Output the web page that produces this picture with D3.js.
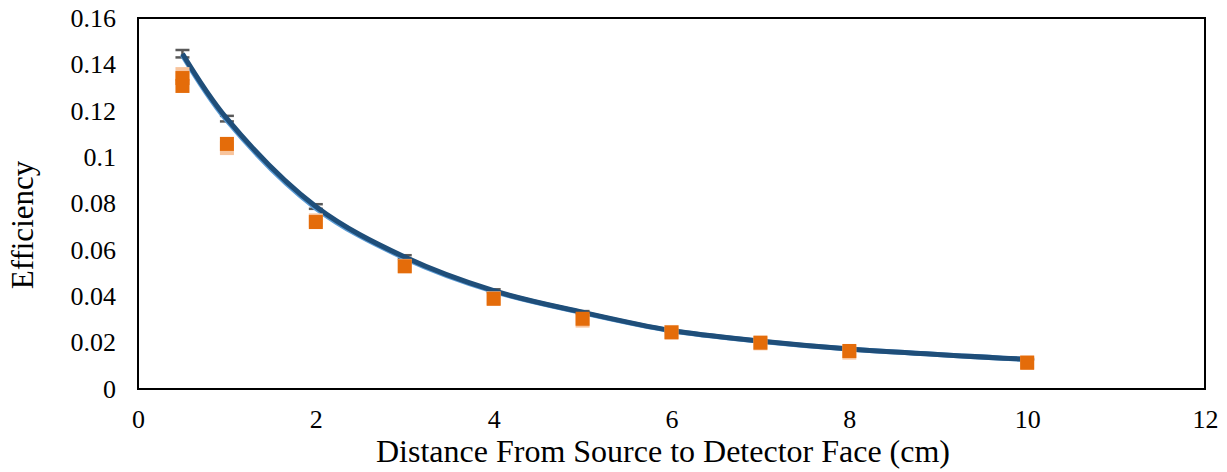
<!DOCTYPE html>
<html>
<head>
<meta charset="utf-8">
<script src="https://cdn.jsdelivr.net/npm/d3@7"></script>
<style>
  html, body { margin: 0; padding: 0; background: #fff; }
  svg { display: block; }
  text { font-family: "Liberation Serif", "Times New Roman", serif; fill: #000; }
</style>
</head>
<body>
<svg id="chart" width="1227" height="472"></svg>
<script>
// Source-to-detector distances (cm)
const distances = [0.5, 1, 2, 3, 4, 5, 6, 7, 8, 10];
// Fitted efficiency curve (dark blue) and a second fit (light blue)
const fitEfficiency = [0.1446, 0.1166, 0.0787, 0.0569, 0.0424, 0.0331, 0.0252, 0.0207, 0.0173, 0.0128];
const fitEfficiencyAlt = [0.1440, 0.1158, 0.0780, 0.0564, 0.0421, 0.0329, 0.0251, 0.0206, 0.0172, 0.0127];
// Uncertainty on the fitted values
const fitError = [0.0016, 0.0012, 0.0010, 0.0008, 0.0006, 0.0005, 0.0004, 0.0003, 0.0003, 0.0002];
// Measured efficiencies (orange)
const measuredDistances = [0.5, 0.5, 1, 2, 3, 4, 5, 6, 7, 8, 10];
const measuredEfficiency = [0.1341, 0.1307, 0.1057, 0.0720, 0.0529, 0.0389, 0.0303, 0.0244, 0.0200, 0.0164, 0.0113];
// Repeat measurement (light orange)
const repeatEfficiency = [0.1358, 0.1039, 0.0727, 0.0531, 0.0391, 0.0295, 0.0246, 0.0197, 0.0157, 0.0116];
// Axis ticks
const xTicks = [0, 2, 4, 6, 8, 10, 12];
const yTicks = [0, 0.02, 0.04, 0.06, 0.08, 0.1, 0.12, 0.14, 0.16];

const svg = d3.select("#chart");
const margin = { left: 138, top: 18, right: 22, bottom: 83 };
const W = 1227, H = 472;
const iw = W - margin.left - margin.right;
const ih = H - margin.top - margin.bottom;

const x = d3.scaleLinear().domain([0, 12]).range([0, iw]);
const y = d3.scaleLinear().domain([0, 0.16]).range([ih, 0]);

const g = svg.append("g").attr("transform", `translate(${margin.left},${margin.top})`);

// Axes (labels only, no tick marks)
const xAxis = g.append("g").attr("transform", `translate(0,${ih})`)
  .call(d3.axisBottom(x).tickValues(xTicks).tickSize(0).tickPadding(21).tickFormat(d3.format("d")));
const yAxis = g.append("g")
  .call(d3.axisLeft(y).tickValues(yTicks).tickSize(0).tickPadding(22).tickFormat(d => d === 0 ? "0" : String(+d.toFixed(2))));
[xAxis, yAxis].forEach(a => {
  a.select(".domain").remove();
  a.selectAll("text").attr("font-size", 26).attr("font-family", "Liberation Serif");
});
xAxis.selectAll("text").attr("dy", "0.71em");

// Fitted-value error bars (under the curve)
const ebW = 7;
const eb = g.append("g").attr("stroke", "#595959").attr("stroke-width", 2.5).attr("fill", "none");
distances.forEach((d, i) => {
  const cx = x(d), y1 = y(fitEfficiency[i] + fitError[i]), y2 = y(fitEfficiency[i] - fitError[i]);
  eb.append("line").attr("x1", cx).attr("x2", cx).attr("y1", y1).attr("y2", y2);
  eb.append("line").attr("x1", cx - ebW).attr("x2", cx + ebW).attr("y1", y1).attr("y2", y1);
  eb.append("line").attr("x1", cx - ebW).attr("x2", cx + ebW).attr("y1", y2).attr("y2", y2);
});

// Fit curves
const line = d3.line().x(d => x(d[0])).y(d => y(d[1])).curve(d3.curveCatmullRom.alpha(0.5));
g.append("path").datum(distances.map((d, i) => [d, fitEfficiencyAlt[i]]))
  .attr("d", line).attr("fill", "none").attr("stroke", "#5B9BD5").attr("stroke-width", 5);
g.append("path").datum(distances.map((d, i) => [d, fitEfficiency[i]]))
  .attr("d", line).attr("fill", "none").attr("stroke", "#1F4E79").attr("stroke-width", 5);

// Square markers
const sq = 14;
g.append("g").selectAll("rect").data(distances.map((d, i) => [d, repeatEfficiency[i]])).join("rect")
  .attr("x", d => x(d[0]) - sq / 2).attr("y", d => y(d[1]) - sq / 2)
  .attr("width", sq).attr("height", sq).attr("fill", "#F8C49C");
g.append("g").selectAll("rect").data(measuredDistances.map((d, i) => [d, measuredEfficiency[i]])).join("rect")
  .attr("x", d => x(d[0]) - sq / 2).attr("y", d => y(d[1]) - sq / 2)
  .attr("width", sq).attr("height", sq).attr("fill", "#E46C0A");

// Plot frame
g.append("rect").attr("x", 0).attr("y", 0).attr("width", iw).attr("height", ih)
  .attr("fill", "none").attr("stroke", "#000").attr("stroke-width", 2);

// Axis titles
svg.append("text").attr("x", 663).attr("y", 462)
  .attr("text-anchor", "middle").attr("font-size", 32).text("Distance From Source to Detector Face (cm)");
svg.append("text").attr("transform", `translate(33,225) rotate(-90)`)
  .attr("text-anchor", "middle").attr("font-size", 31).text("Efficiency");
</script>
</body>
</html>
